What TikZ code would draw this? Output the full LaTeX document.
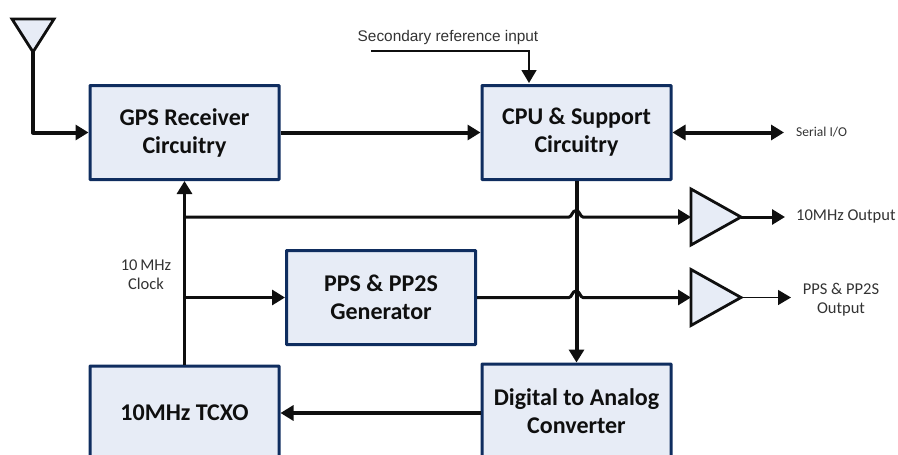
\documentclass[tikz,border=0pt]{standalone}
\usepackage{fontspec}
\setmainfont{Carlito}
\newfontfamily\arialish{Liberation Sans}
\usetikzlibrary{arrows.meta,shapes.geometric}
\definecolor{boxfill}{RGB}{231,236,246}
\definecolor{boxline}{RGB}{15,45,95}
\definecolor{ink}{RGB}{15,15,15}
\tikzset{
  block/.style={draw=boxline,fill=boxfill,line width=3pt,rounded corners=0.5pt,minimum width=189pt,inner sep=0pt,outer sep=1.5pt,align=center,text=ink,font=\fontsize{24}{28}\selectfont\bfseries},
  amp/.style={draw=ink,fill=boxfill,line width=2.8pt,isosceles triangle,isosceles triangle stretches,minimum width=56pt,minimum height=50pt,inner sep=0pt,outer sep=0pt,line join=miter},
  ant/.style={amp,shape border rotate=270,minimum width=42pt,minimum height=33pt},
  heavy/.style={draw=ink,line width=4pt,line join=round},
  medium/.style={draw=ink,line width=3pt},
  thin/.style={draw=ink,line width=1.5pt},
  tip/.style={-{Triangle[length=13pt,width=15pt]}},
  label/.style={text=ink!85,inner sep=0pt,align=center,font=\fontsize{16.5}{19.5}\selectfont},
}
\begin{document}
\begin{tikzpicture}[x=1pt,y=-1pt]
\useasboundingbox[clip] (0,0) rectangle (898,455);
\node[block,minimum height=94pt] (gps) at (184.5,132.5) {GPS Receiver\\Circuitry};
\node[block,minimum height=94pt] (cpu) at (576.5,132.5) {CPU \& Support\\Circuitry};
\node[block,minimum height=94pt] (pps) at (381,297.5) {PPS \& PP2S\\Generator};
\node[block,minimum height=94pt] (tcxo) at (184.5,413) {10MHz TCXO};
\node[block,minimum height=94pt] (dac) at (576.5,411) {Digital to Analog\\Converter};
\node[ant,anchor=apex] (antenna) at (33,52) {};
\node[amp,anchor=apex] (amp1) at (741,217) {};
\node[amp,anchor=apex] (amp2) at (741,297.5) {};
\node[label,anchor=west,font=\fontsize{13.5}{16}\selectfont] (serial) at (796,132) {Serial I/O};
\node[label,anchor=west] (out1) at (796,216) {10MHz Output};
\node[label] (out2) at (841,299.5) {PPS \& PP2S\\Output};
\node[label] (clk) at (146,274.5) {10\,MHz\\Clock};
\node[label,font=\arialish\fontsize{15.4}{18}\selectfont] (sec) at (448,38) {Secondary reference input};
\coordinate (secstart) at (371,51);
\coordinate (seccorner) at (529,51);
\coordinate (secend) at (529,83);
\coordinate (antcorner) at (33,132.5);
\coordinate (clkmid) at (185,217);
\coordinate (clkpps) at (185,297.5);
\coordinate (serialend) at (784,132.5);
\coordinate (out1end) at (785,217);
\coordinate (out2end) at (791,297.5);
% main connectors
\draw[heavy,tip] (antenna.apex) -- (antcorner) -- (gps.west);
\draw[heavy,tip] (gps.east) -- (cpu.west);
\draw[thin,tip] (secstart) -- (seccorner) -- (secend);
\draw[heavy,{Triangle[length=13pt,width=15pt]}-{Triangle[length=13pt,width=15pt]}] (cpu.east) -- (serialend);
\draw[heavy,tip] (cpu.south) -- (dac.north);
\draw[heavy,tip] (dac.west |- tcxo.east) -- (tcxo.east);
\draw[medium,tip] (tcxo.north) -- (gps.south);
\draw[medium,tip] (clkpps) -- (pps.west);
% jumpers over the CPU-DAC line
\draw[medium,tip] (clkmid) -- (569,217) .. controls (572,217) and (572,210.5) .. (576,210.5) .. controls (580,210.5) and (580,217) .. (583,217) -- (amp1.west |- clkmid);
\draw[medium,tip] (pps.east |- clkpps) -- (569,297.5) .. controls (572,297.5) and (572,291) .. (576,291) .. controls (580,291) and (580,297.5) .. (583,297.5) -- (amp2.west |- clkpps);
\draw[medium,tip] (amp1.apex) -- (out1end);
\draw[thin,tip] (amp2.apex) -- (out2end);
\end{tikzpicture}
\end{document}
